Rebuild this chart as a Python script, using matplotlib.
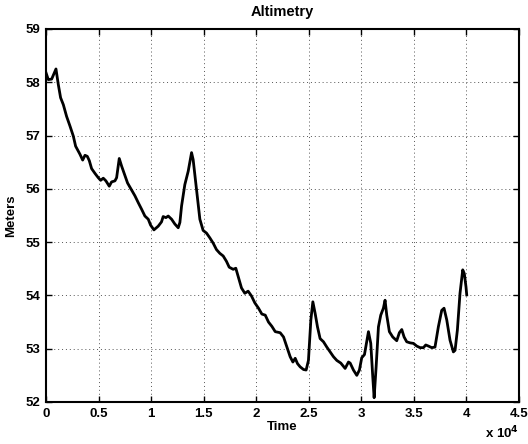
import matplotlib
matplotlib.use('Agg')
import matplotlib.pyplot as plt
import numpy as np

# Altimetry trace
t = [0, 220, 540, 950, 1170, 1390, 1650, 1960, 2280, 2600, 2820, 3230, 3490,
     3710, 3930, 4120, 4340, 4660, 4970, 5200, 5450, 5700, 6020, 6240, 6560,
     6720, 6970, 7190, 7510, 7760, 8140, 8460, 8780, 9090, 9410, 9730, 9950,
     10270, 10680, 10990, 11150, 11410, 11630, 11950, 12260, 12580, 12740,
     12900, 13210, 13530, 13850, 14000, 14320, 14640, 14950, 15270, 15590,
     15910, 16220, 16540, 16860, 17170, 17430, 17810, 18060, 18280, 18600,
     18920, 19230, 19550, 19870, 20220, 20540, 20860, 21170, 21490, 21810,
     22280, 22600, 22920, 23230, 23490, 23710, 23930, 24180, 24500, 24750,
     24970, 25200, 25390, 25610, 25830, 26080, 26400, 26720, 27030, 27350,
     27670, 28050, 28460, 28780, 28940, 29250, 29570, 29820, 30040, 30300,
     30460, 30680, 30900, 31090, 31220, 31410, 31630, 31850, 32100, 32260,
     32420, 32670, 32990, 33370, 33620, 33850, 34070, 34320, 34640, 34960,
     35270, 35590, 35910, 36130, 36380, 36700, 37010, 37330, 37650, 37870,
     38130, 38440, 38760, 38920, 39140, 39390, 39650, 39800, 39960, 40030]
alt = [58.18, 58.05, 58.06, 58.25, 57.96, 57.71, 57.58, 57.36, 57.18, 56.99,
       56.80, 56.65, 56.54, 56.63, 56.61, 56.53, 56.38, 56.29, 56.21, 56.16,
       56.20, 56.15, 56.05, 56.13, 56.15, 56.21, 56.57, 56.43, 56.25, 56.11,
       55.98, 55.87, 55.74, 55.62, 55.49, 55.43, 55.32, 55.23, 55.30, 55.38,
       55.48, 55.46, 55.49, 55.43, 55.34, 55.27, 55.37, 55.68, 56.08, 56.33,
       56.68, 56.55, 55.99, 55.43, 55.22, 55.17, 55.08, 54.98, 54.86, 54.79,
       54.74, 54.64, 54.53, 54.49, 54.51, 54.36, 54.14, 54.04, 54.08, 53.99,
       53.86, 53.76, 53.65, 53.63, 53.50, 53.42, 53.32, 53.30, 53.22, 53.03,
       52.85, 52.75, 52.82, 52.72, 52.66, 52.61, 52.60, 52.78, 53.54, 53.88,
       53.66, 53.41, 53.19, 53.13, 53.03, 52.94, 52.85, 52.78, 52.73, 52.63,
       52.75, 52.73, 52.60, 52.50, 52.60, 52.83, 52.89, 53.07, 53.32, 53.10,
       52.47, 52.08, 52.66, 53.41, 53.63, 53.76, 53.91, 53.63, 53.32, 53.22,
       53.15, 53.30, 53.36, 53.22, 53.13, 53.11, 53.10, 53.05, 53.02, 53.02,
       53.07, 53.05, 53.02, 53.03, 53.41, 53.72, 53.76, 53.54, 53.16, 52.94,
       52.97, 53.35, 54.04, 54.48, 54.41, 54.16, 54.01]

xticks = [0, 0.5e4, 1e4, 1.5e4, 2e4, 2.5e4, 3e4, 3.5e4, 4e4, 4.5e4]
xticklabels = ['0', '0.5', '1', '1.5', '2', '2.5', '3', '3.5', '4', '4.5']
yticks = [52, 53, 54, 55, 56, 57, 58, 59]

plt.rcParams['font.family'] = ['Liberation Sans', 'DejaVu Sans']
plt.rcParams['font.weight'] = 'bold'
plt.rcParams['font.size'] = 9

fig = plt.figure(figsize=(5.28, 4.44), dpi=100)
ax = fig.add_axes([0.0871, 0.0946, 0.8958, 0.8401])
ax.plot(t, alt, color='black', linewidth=2, solid_joinstyle='round')

ax.set_xlim(0, 4.5e4)
ax.set_ylim(52, 59)
ax.set_xticks(xticks)
ax.set_xticklabels(xticklabels)
ax.set_yticks(yticks)
ax.tick_params(direction='in', top=True, right=True, length=4, width=1.0,
               labelsize=9.5, pad=4)
for lab in ax.get_xticklabels() + ax.get_yticklabels():
    lab.set_fontweight('bold')
ax.grid(True, linestyle=(0, (1, 3)), color='#555555', linewidth=0.7)
for s in ax.spines.values():
    s.set_linewidth(1.5)

ax.set_title('Altimetry', fontweight='bold', fontsize=10.5, pad=9)
ax.set_xlabel('Time', fontweight='bold', fontsize=9.5, labelpad=1)
ax.set_ylabel('Meters', fontweight='bold', fontsize=9.5, labelpad=6)
ax.text(1.0, -0.062, r'x 10$^{\mathbf{4}}$', transform=ax.transAxes,
        ha='right', va='top', fontsize=9.5, fontweight='bold')

fig.savefig('out.png', dpi=100)
